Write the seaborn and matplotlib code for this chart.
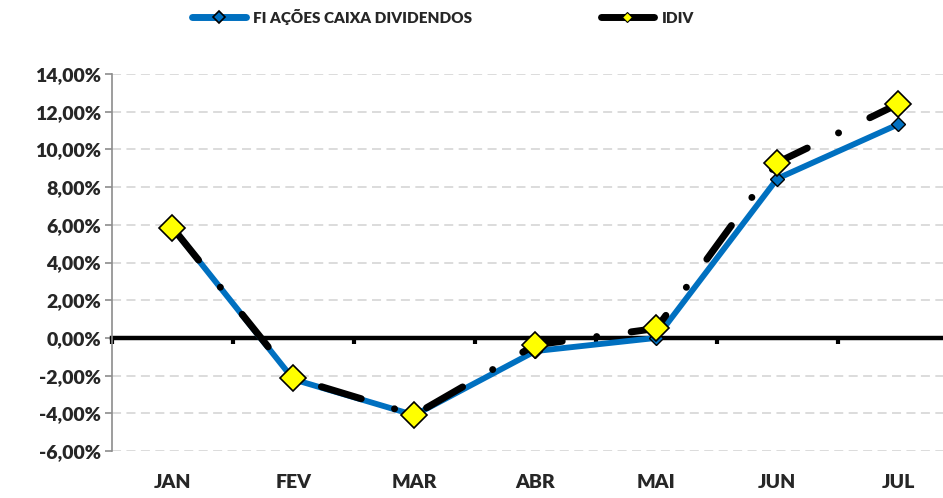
import numpy as np
import pandas as pd
import matplotlib
matplotlib.use("Agg")
import matplotlib.pyplot as plt
import seaborn as sns
from matplotlib.lines import Line2D
from matplotlib.ticker import FuncFormatter, FixedLocator

months = ["JAN", "FEV", "MAR", "ABR", "MAI", "JUN", "JUL"]
fund = [5.85, -2.2, -4.1, -0.7, 0.0, 8.45, 11.33]
idiv = [5.85, -2.14, -4.08, -0.37, 0.50, 9.30, 12.41]
fund_name = "FI AÇÕES CAIXA DIVIDENDOS"
idiv_name = "IDIV"
yticks = [-6, -4, -2, 0, 2, 4, 6, 8, 10, 12, 14]

sns.set_style("white")
plt.rcParams["font.family"] = ["Lato", "DejaVu Sans"]
plt.rcParams["font.weight"] = "heavy"

fig = plt.figure(figsize=(9.43, 4.98), dpi=100)
ax = fig.add_axes([112 / 943, (498 - 451) / 498, 831 / 943, (451 - 74) / 498])

pos = np.arange(len(months))
df = pd.DataFrame({"pos": pos, "fund": fund, "idiv": idiv})

blue = "#0070c0"
sns.lineplot(data=df, x="pos", y="fund", ax=ax, color=blue, linewidth=4.2,
             marker="D", markersize=7, markerfacecolor=blue,
             markeredgecolor="black", markeredgewidth=1.0, zorder=3, sort=False)
sns.lineplot(data=df, x="pos", y="idiv", ax=ax, color="black", linewidth=5,
             linestyle=(0, (6.0, 5.0, 0.01, 5.0)), dash_capstyle="round",
             marker="D", markersize=13, markerfacecolor="#ffff00",
             markeredgecolor="black", markeredgewidth=1.2, zorder=4, sort=False)

ax.set_xlim(-0.5, 6.37)
ax.set_ylim(-6, 14)
ax.set_xlabel("")
ax.set_ylabel("")

# grid
ax.yaxis.set_major_locator(FixedLocator(yticks))
for v in yticks:
    if v != 0:
        ax.axhline(v, color="#d9d9d9", lw=1.3, ls=(0, (5, 3)), zorder=1)
ax.yaxis.set_major_formatter(FuncFormatter(lambda v, p: f"{v:.2f}%".replace(".", ",")))

# spines
for s in ["top", "right"]:
    ax.spines[s].set_visible(False)
ax.spines["left"].set_color("#8c8c8c")
ax.spines["left"].set_linewidth(1.2)
ax.spines["bottom"].set_position(("data", 0))
ax.spines["bottom"].set_color("black")
ax.spines["bottom"].set_linewidth(3.2)
ax.spines["bottom"].set_zorder(2)

ax.set_xticks(pos)
ax.set_xticklabels(months)
ax.set_xticks(np.append(pos[:-1] + 0.5, -0.5), minor=True)
ax.tick_params(axis="x", which="both", bottom=True)
ax.tick_params(axis="x", which="major", length=0, pad=98, labelsize=14)
ax.tick_params(axis="x", which="minor", length=4, width=3, color="black", direction="out")
ax.tick_params(axis="y", left=True, length=5, width=1.2, color="#8c8c8c", direction="out",
               labelsize=14, pad=3)
for lab in ax.get_xticklabels() + ax.get_yticklabels():
    lab.set_fontweight("heavy")

handles = [
    Line2D([], [], color=blue, lw=5, solid_capstyle="round", marker="D", markersize=6,
           markerfacecolor=blue, markeredgecolor="black", markeredgewidth=1.2),
    Line2D([], [], color="black", lw=5, solid_capstyle="round", marker="D", markersize=5,
           markerfacecolor="#ffff00", markeredgecolor="black", markeredgewidth=0.8),
]
fig.legend(handles, [fund_name, idiv_name], loc="upper center", bbox_to_anchor=(0.47, 1.01),
           ncol=2, frameon=False, columnspacing=8.4, handlelength=3.5, handletextpad=0.5,
           prop={"weight": "heavy", "size": 11})

fig.savefig("out.png", dpi=100)
